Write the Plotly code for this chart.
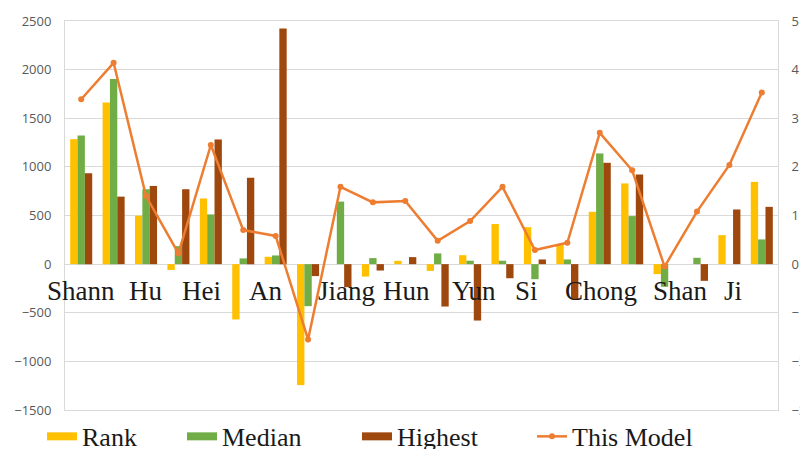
import plotly.graph_objects as go

# Region labels shown along the zero line (every other slot is labelled)
region_labels = ["Shann", "Hu", "Hei", "An", "Jiang", "Hun", "Yun", "Si", "Chong", "Shan", "Ji"]
label_anchor = [0.0, 1.98, 3.7, 5.68, 8.2, 10.03, 12.13, 13.73, 16.05, 18.5, 20.1]

# Series values per slot (left axis for bars, right axis for the model line)
rank = [1285, 1663, 498, -60, 675, -569, 75, -1244, 0, -128, 34, -70,
        92, 412, 380, 206, 538, 830, -103, 0, 298, 846]
median = [1322, 1904, 770, 185, 511, 59, 89, -432, 643, 62, 0, 110,
          35, 35, -155, 48, 1138, 494, -233, 65, 0, 254]
highest = [935, 694, 804, 770, 1282, 888, 2424, -123, -237, -66, 72, -436,
           -580, -145, 48, -360, 1042, 922, 0, -172, 562, 589]
this_model = [3.39, 4.14, 1.4, 0.22, 2.45, 0.70, 0.58, -1.55, 1.59, 1.27, 1.30, 0.48,
              0.885, 1.59, 0.29, 0.44, 2.70, 1.93, -0.05, 1.08, 2.04, 3.53]

slots = list(range(len(rank)))

C_RANK = "#FFC000"
C_MED = "#70AD47"
C_HIGH = "#9E480E"
C_LINE = "#ED7D31"

SERIF = "Liberation Serif, Times New Roman, serif"

fig = go.Figure()
for name, vals, col in [("Rank", rank, C_RANK), ("Median", median, C_MED), ("Highest", highest, C_HIGH)]:
    fig.add_trace(go.Bar(x=slots, y=vals, name=name, marker=dict(color=col, line=dict(width=0)),
                         showlegend=False))

fig.add_trace(go.Scatter(x=slots, y=this_model, name="This Model", yaxis="y2", mode="lines+markers",
                         line=dict(color=C_LINE, width=2.5), marker=dict(color=C_LINE, size=6),
                         showlegend=False))

# Legend entries: wide flat swatches for the bar series, line+dot for the model
legend_specs = [("Rank", C_RANK, "legend", 42, False),
                ("Median", C_MED, "legend2", 182, False),
                ("Highest", C_HIGH, "legend3", 357, False),
                ("This Model", C_LINE, "legend4", 532, True)]
for name, col, lg, _, is_line in legend_specs:
    fig.add_trace(go.Scatter(x=[None], y=[None], name=name, legend=lg,
                             mode="lines+markers" if is_line else "lines",
                             line=dict(color=col, width=2.5 if is_line else 8),
                             marker=dict(color=col, size=6)))

PL, PR, PT, PB = 65, 22, 21, 39
W, H = 800, 449
pw = W - PL - PR

legend_layout = {}
for name, col, lg, px, _ in legend_specs:
    legend_layout[lg] = dict(x=(px - PL) / pw, xanchor="left", y=-0.068, yanchor="middle",
                             orientation="h", bgcolor="rgba(0,0,0,0)",
                             font=dict(family=SERIF, size=26, color="#1a1a1a"),
                             itemwidth=30)

annotations = [dict(x=xa, y=0, xref="x", yref="y", text=t, showarrow=False,
                    yanchor="middle", yshift=-27,
                    font=dict(family=SERIF, size=27, color="#1a1a1a"))
               for t, xa in zip(region_labels, label_anchor)]

fig.update_layout(
    width=W, height=H,
    margin=dict(l=PL, r=PR, t=PT, b=PB, autoexpand=False),
    paper_bgcolor="white", plot_bgcolor="white",
    barmode="group", bargap=0.32, bargroupgap=0,
    xaxis=dict(range=[-0.5, len(slots) - 0.5], showticklabels=False, showgrid=False,
               zeroline=False, showline=True, mirror=True, linecolor="#d9d9d9", linewidth=1,
               fixedrange=True),
    yaxis=dict(range=[-1500, 2500], dtick=500, showgrid=True, gridcolor="#d9d9d9", gridwidth=1,
               zeroline=True, zerolinecolor="#d9d9d9", zerolinewidth=1,
               showline=True, linecolor="#d9d9d9", ticks="", ticklabelstandoff=10,
               tickfont=dict(family="Open Sans, sans-serif", size=13, color="#595959")),
    yaxis2=dict(range=[-3, 5], dtick=1, overlaying="y", side="right", showgrid=False,
                zeroline=False, showline=True, linecolor="#d9d9d9", ticks="",
                ticklabelstandoff=10,
                tickfont=dict(family="Open Sans, sans-serif", size=13, color="#595959")),
    annotations=annotations,
    **legend_layout,
)

fig.write_html("out.html")
